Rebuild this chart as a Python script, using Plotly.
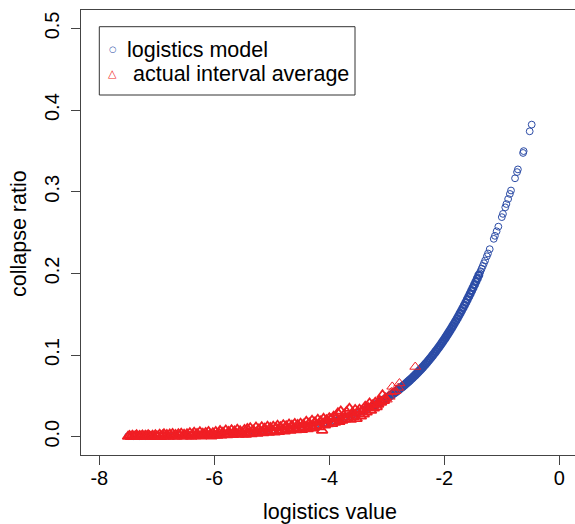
import plotly.graph_objects as go

# ---------------- data ----------------
blue_x = [-7.5, -7.4, -7.3, -7.2, -7.1, -7.0, -6.9, -6.8, -6.7, -6.6, -6.5, -6.4, -6.3, -6.2, -6.1,
          -6.0, -5.9, -5.8, -5.7, -5.6, -5.5, -5.4, -5.3, -5.2, -5.1,
          -5.00, -4.95, -4.90, -4.85, -4.80, -4.75, -4.70, -4.65, -4.60, -4.55, -4.50, -4.45, -4.40,
          -4.35, -4.30, -4.25, -4.20, -4.15, -4.10, -4.05, -4.00, -3.95, -3.90, -3.85, -3.80, -3.75,
          -3.70, -3.65, -3.60, -3.55, -3.50, -3.45, -3.40, -3.35, -3.30, -3.25, -3.20, -3.15, -3.10, -3.05,
          -3.000, -2.975, -2.950, -2.925, -2.900, -2.875, -2.850, -2.825, -2.800, -2.775, -2.750, -2.725,
          -2.700, -2.675, -2.650, -2.625, -2.600, -2.575, -2.550, -2.525, -2.500, -2.475, -2.450, -2.425,
          -2.400, -2.375, -2.350, -2.325, -2.300, -2.275, -2.250, -2.225, -2.200, -2.175, -2.150, -2.125,
          -2.100, -2.075, -2.050, -2.025, -2.000, -1.975, -1.950, -1.925, -1.900, -1.875, -1.850, -1.825,
          -1.800, -1.775, -1.750, -1.725, -1.700, -1.675, -1.650, -1.625, -1.600, -1.575, -1.550, -1.525,
          -1.500, -1.475, -1.450, -1.425, -1.400,
          -1.385, -1.37, -1.35, -1.33, -1.31, -1.29, -1.26, -1.24, -1.21, -1.14, -1.12, -1.09, -1.06,
          -1.00, -0.98, -0.94, -0.92, -0.89, -0.86, -0.84, -0.77, -0.735, -0.72, -0.63, -0.62, -0.515, -0.48]
blue_y = [0.000553, 0.000611, 0.000676, 0.000747, 0.000825, 0.000911, 0.001007, 0.001113, 0.001229,
          0.001358, 0.001501, 0.001659, 0.001833, 0.002025, 0.002238, 0.002473, 0.002732, 0.003019,
          0.003335, 0.003684, 0.004070, 0.004497, 0.004967, 0.005487, 0.006060,
          0.006693, 0.007033, 0.007392, 0.007767, 0.008163, 0.008578, 0.009013, 0.009471, 0.009952,
          0.010457, 0.010987, 0.011544, 0.012128, 0.012743, 0.013387, 0.014063, 0.014774, 0.015520,
          0.016303, 0.017124, 0.017986, 0.018891, 0.019840, 0.020837, 0.021881, 0.022978, 0.024127,
          0.025333, 0.026597, 0.027923, 0.029312, 0.030769, 0.032295, 0.033895, 0.035571, 0.037327,
          0.039166, 0.041091, 0.043107, 0.045218,
          0.04743, 0.04857, 0.04974, 0.05093, 0.05215, 0.05340, 0.05468, 0.05599, 0.05732, 0.05869,
          0.06009, 0.06151, 0.06297, 0.06446, 0.06599, 0.06755, 0.06914, 0.07077, 0.07243, 0.07412,
          0.07586, 0.07763, 0.07944, 0.08129, 0.08317, 0.08510, 0.08707, 0.08907, 0.09112, 0.09322,
          0.09535, 0.09753, 0.09975, 0.10202, 0.10433, 0.10669, 0.10910, 0.11155, 0.11405, 0.11660,
          0.11920, 0.12185, 0.12455, 0.12730, 0.13011, 0.13296, 0.13587, 0.13884, 0.14185, 0.14492,
          0.14805, 0.15123, 0.15447, 0.15776, 0.16111, 0.16452, 0.16798, 0.17150, 0.17509, 0.17872,
          0.18243, 0.18619, 0.19000, 0.19388, 0.19782,
          0.20021, 0.20262, 0.20588, 0.20916, 0.21248, 0.21585, 0.22097, 0.22444, 0.22970, 0.24232,
          0.24601, 0.25161, 0.25730, 0.26894, 0.27289, 0.28090, 0.28496, 0.29111, 0.29734, 0.30154,
          0.31648, 0.32410, 0.32739, 0.34752, 0.34979, 0.37401, 0.38225]

red_x = [-7.500, -7.475, -7.450, -7.425, -7.400, -7.375, -7.350, -7.325, -7.300, -7.275, -7.250,
         -7.225, -7.200, -7.175, -7.150, -7.125, -7.100, -7.075, -7.050, -7.025, -7.000,
         -6.975, -6.950, -6.925, -6.900, -6.875, -6.850, -6.825, -6.800, -6.775, -6.750,
         -6.725, -6.700, -6.675, -6.650, -6.625, -6.600, -6.575, -6.550, -6.525, -6.500,
         -6.475, -6.450, -6.425, -6.400, -6.375, -6.350, -6.325, -6.300, -6.275, -6.250,
         -6.225, -6.200, -6.175, -6.150, -6.125, -6.100, -6.075, -6.050, -6.025, -6.000,
         -5.975, -5.950, -5.925, -5.900, -5.875, -5.850, -5.825, -5.800, -5.775, -5.750,
         -5.725, -5.700, -5.675, -5.650, -5.625, -5.600, -5.575, -5.550, -5.525, -5.500,
         -5.475, -5.450, -5.425, -5.400, -5.375, -5.350, -5.325, -5.300, -5.275, -5.250,
         -5.225, -5.200, -5.175, -5.150, -5.125, -5.100, -5.075, -5.050, -5.025, -5.000,
         -4.975, -4.950, -4.925, -4.900, -4.875, -4.850, -4.825, -4.800, -4.775, -4.750,
         -4.725, -4.700, -4.675, -4.650, -4.625, -4.600, -4.575, -4.550, -4.525, -4.500,
         -4.475, -4.450, -4.425, -4.400, -4.375, -4.350, -4.325, -4.300, -4.275, -4.250,
         -4.225, -4.200, -4.175, -4.150, -4.125, -4.100, -4.075, -4.050, -4.025, -4.000,
         -3.975, -3.950, -3.925, -3.900, -3.875, -3.850, -3.825, -3.800, -3.775, -3.750,
         -3.725, -3.700, -3.675, -3.650, -3.625, -3.600, -3.575, -3.550, -3.525, -3.500,
         -3.475, -3.450, -3.425, -3.400, -3.375, -3.350, -3.325, -3.300, -3.275, -3.250,
         -3.225, -3.200, -3.175, -3.150, -3.125, -3.100, -3.075, -3.050, -3.025, -3.000,
         -2.950, -2.920, -2.905, -2.880, -2.850, -2.800, -2.780, -2.505]
red_y = [0.0002, 0.0012, 0.0000, 0.0016, 0.0003, 0.0009, 0.0020, 0.0001, 0.0013, 0.0005, 0.0018,
         0.0002, 0.0014, 0.0006, 0.0021, 0.0008, 0.0000, 0.0016, 0.0004, 0.0022, 0.0007,
         0.0008, 0.0027, 0.0001, 0.0019, 0.0034, 0.0004, 0.0023, 0.0002, 0.0030, 0.0011,
         0.0036, 0.0005, 0.0025, 0.0003, 0.0033, 0.0014, 0.0039, 0.0006, 0.0027, 0.0010,
         0.0033, 0.0010, 0.0045, 0.0003, 0.0027, 0.0052, 0.0008, 0.0037, 0.0016, 0.0058,
         0.0005, 0.0040, 0.0020, 0.0050, 0.0012, 0.0061, 0.0025, 0.0007, 0.0047, 0.0018,
         0.0060, 0.0014, 0.0047, 0.0072, 0.0019, 0.0053, 0.0028, 0.0079, 0.0022, 0.0062,
         0.0034, 0.0083, 0.0024, 0.0066, 0.0040, 0.0088, 0.0026, 0.0071, 0.0045, 0.0030,
         0.0085, 0.0028, 0.0098, 0.0045, 0.0108, 0.0033, 0.0080, 0.0055, 0.0115, 0.0040,
         0.0093, 0.0060, 0.0120, 0.0047, 0.0102, 0.0066, 0.0125, 0.0052, 0.0110, 0.0070,
         0.0125, 0.0056, 0.0108, 0.0138, 0.0062, 0.0120, 0.0079, 0.0145, 0.0068, 0.0130,
         0.0090, 0.0152, 0.0075, 0.0138, 0.0100, 0.0160, 0.0082, 0.0146, 0.0108, 0.0163,
         0.0085, 0.0150, 0.0112, 0.0185, 0.0095, 0.0165, 0.0125, 0.0198, 0.0105, 0.0178,
         0.0135, 0.0210, 0.0118, 0.0190, 0.0077, 0.0222, 0.0140, 0.0205, 0.0155, 0.0230,
         0.0215, 0.0160, 0.0248, 0.0175, 0.0230, 0.0290, 0.0185, 0.0312, 0.0200, 0.0262,
         0.0215, 0.0305, 0.0235, 0.0345, 0.0210, 0.0290, 0.0245, 0.0330, 0.0220, 0.0300,
         0.0335, 0.0250, 0.0322, 0.0275, 0.0370, 0.0300, 0.0355, 0.0410, 0.0320, 0.0385,
         0.0350, 0.0420, 0.0365, 0.0395, 0.0445, 0.0420, 0.0510, 0.0440, 0.0470, 0.0455,
         0.0490, 0.0545, 0.0613, 0.0555, 0.0560, 0.0600, 0.0654, 0.0856]

x_ticks = [-8, -6, -4, -2, 0]
x_tick_text = ["-8", "-6", "-4", "-2", "0"]
y_ticks = [0.0, 0.1, 0.2, 0.3, 0.4, 0.5]
y_tick_text = ["0.0", "0.1", "0.2", "0.3", "0.4", "0.5"]
legend_labels = ["logistics model", " actual interval average"]

FONT = "Liberation Sans, Arial, sans-serif"
AXC = "#444444"
BLUE = "rgb(44,76,166)"
RED = "rgb(240,30,36)"

# plot-area geometry in pixels (for placing the hand-made legend in paper coords)
L, T, W, H = 81, 10, 494, 445
def px(xp):
    return (xp - L) / W
def py(yp):
    return (T + H - yp) / H

# styling: the dense part of each cloud needs heavier outlines to read as a solid band
blue_lw = [2.2 if -3.2 <= v <= -1.4 else 1.0 for v in blue_x]
red_lw = [1.8 if v < -3.0 else 1.0 for v in red_x]

fig = go.Figure()
fig.add_trace(go.Scatter(
    x=blue_x, y=blue_y, mode="markers", name=legend_labels[0], showlegend=False,
    marker=dict(symbol="circle-open", size=6.8, color=BLUE,
                line=dict(width=blue_lw, color=BLUE)),
))
fig.add_trace(go.Scatter(
    x=red_x, y=red_y, mode="markers", name=legend_labels[1], showlegend=False,
    marker=dict(symbol="triangle-up-open", size=9.5, color=RED,
                line=dict(width=red_lw, color=RED)),
))

fig.update_layout(
    width=575, height=524,
    margin=dict(l=L, r=0, t=T, b=524 - T - H, pad=0),
    paper_bgcolor="white", plot_bgcolor="white",
    font=dict(family=FONT, size=20, color="black"),
    showlegend=False,
    xaxis=dict(range=[-8.318, 0.273], tickvals=x_ticks, ticktext=x_tick_text,
               showgrid=False, zeroline=False, showline=True, mirror=True,
               linecolor=AXC, linewidth=1, ticks="outside", ticklen=9,
               tickcolor=AXC, tickwidth=1, tickfont=dict(size=20),
               ticklabelstandoff=-4),
    yaxis=dict(range=[-0.0224, 0.5226], tickvals=y_ticks, ticktext=y_tick_text,
               tickangle=-90, showgrid=False, zeroline=False, showline=True,
               mirror=False, linecolor=AXC, linewidth=1, ticks="outside",
               ticklen=9, tickcolor=AXC, tickwidth=1, tickfont=dict(size=20),
               ticklabelstandoff=4),
    shapes=[
        dict(type="rect", xref="paper", yref="paper",
             x0=px(99.3), x1=px(355), y0=py(95), y1=py(26.7),
             line=dict(color="#333333", width=1), fillcolor="white", layer="above"),
    ],
    annotations=[
        dict(text="logistics value", xref="paper", yref="paper", x=px(330), y=py(512),
             xanchor="center", yanchor="middle", showarrow=False, font=dict(size=21.5)),
        dict(text="collapse ratio", xref="paper", yref="paper", x=px(19), y=py(234),
             xanchor="center", yanchor="middle", textangle=-90, showarrow=False,
             font=dict(size=21.5)),
        # hand-made legend (R style)
        dict(text="○", xref="paper", yref="paper", x=px(112.7), y=py(49.5),
             xanchor="center", yanchor="middle", showarrow=False,
             font=dict(size=8.5, color=BLUE, family="DejaVu Sans")),
        dict(text="△", xref="paper", yref="paper", x=px(112.7), y=py(73.5),
             xanchor="center", yanchor="middle", showarrow=False,
             font=dict(size=11, color=RED, family="DejaVu Sans")),
        dict(text=legend_labels[0], xref="paper", yref="paper", x=px(125), y=py(50),
             xanchor="left", yanchor="middle", showarrow=False, font=dict(size=21.5)),
        dict(text=legend_labels[1].strip(), xref="paper", yref="paper", x=px(131), y=py(74),
             xanchor="left", yanchor="middle", showarrow=False, font=dict(size=21.5)),
    ],
)

fig.write_html("out.html")
